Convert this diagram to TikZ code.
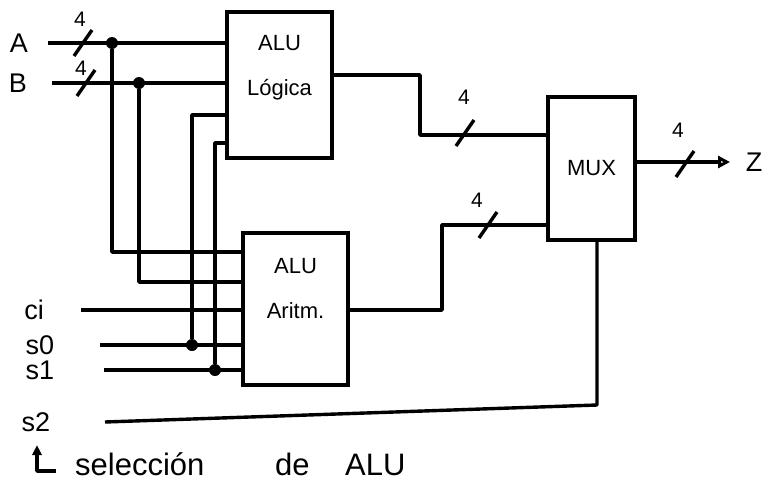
\documentclass[tikz,border=0pt]{standalone}
\usepackage{fontspec}
\setmainfont{Liberation Sans}
\usepackage{tikz}
\usetikzlibrary{arrows.meta}

\tikzset{
	wire/.style={line width=3.4pt, line join=round},
	alubox/.style={draw, line width=3.4pt, inner sep=0, minimum width=105pt, minimum height=146pt},
	boxtext/.style={inner sep=0, align=center, anchor=north, font=\fontsize{22}{45}\selectfont},
	sig/.style={inner sep=0, font=\fontsize{27}{30}\selectfont},
	buslbl/.style={inner sep=0, font=\fontsize{21}{22}\selectfont},
	junct/.style={circle, fill, inner sep=0, minimum size=12pt}
}
% bus slash with width label: #1 = point x,y ; #2 = label node name ; #3 = label shift
\newcommand{\busslash}[3]{%
	\draw[wire] ([shift={(-9,13)}]#1) -- ([shift={(9,-13)}]#1);
	\node[buslbl] (#2) at ([shift={(#3)}]#1) {4};}

\begin{document}
\begin{tikzpicture}[x=1pt, y=-1pt]
	\useasboundingbox (0,0) rectangle (771,482);
	% Blocks:
	\node[alubox] (logic) at (279.5,85) {};
	\node[alubox, minimum height=152pt] (arith) at (295.5,309) {};
	\node[alubox, minimum width=87pt, minimum height=143pt] (mux) at (591.5,168.5) {};
	\node[boxtext] (logicT) at ([yshift=-25]logic.north) {ALU\\Lógica};
	\node[boxtext] (arithT) at ([yshift=-27]arith.north) {ALU\\Aritm.};
	\node[boxtext, anchor=center] (muxT) at (mux) {MUX};
	% Inputs:
	\node[sig] (A) at (19,43) {A};
	\node[sig] (B) at (18,83) {B};
	\node[sig] (ci) at (34,310) {ci};
	\node[sig] (s0) at (40,345) {s0};
	\node[sig] (s1) at (40,370) {s1};
	\node[sig] (s2) at (36,422) {s2};
	\node[sig] (Z) at (754,162) {Z};
	\coordinate (Ain) at (48,43);
	\coordinate (Bin) at (52,83);
	\coordinate (ciin) at (81,310);
	\coordinate (s0in) at (100,345);
	\coordinate (s1in) at (104,370);
	\coordinate (s2in) at (105,422);
	% Junctions:
	\node[junct] (jA) at (112,43) {};
	\node[junct] (jB) at (139,83) {};
	\node[junct] (js0) at (192,345) {};
	\node[junct] (js1) at (215,370) {};
	% Paths and wires:
	\draw[wire] (Ain) -- (Ain -| logic.west);
	\draw[wire] (Bin) -- (Bin -| logic.west);
	\busslash{83,43}{wA}{-3,-24}
	\busslash{86,83}{wB}{-5,-15}
	\draw[wire] (jA) |- (arith.west |- 0,252);
	\draw[wire] (jB) |- (arith.west |- 0,282);
	\draw[wire] (ciin) -- (ciin -| arith.west);
	\draw[wire] (s0in) -- (s0in -| arith.west);
	\draw[wire] (s1in) -- (s1in -| arith.west);
	\draw[wire] (js0) |- (logic.west |- 0,115);
	\draw[wire] (js1) |- (logic.west |- 0,143);
	% Outputs to the mux:
	\draw[wire] (logic.east |- 0,75) -| (420,135) -- (mux.west |- 0,135);
	\busslash{465,133}{wL}{-1,-36}
	\draw[wire] (arith.east |- 0,310) -| (442,225) -- (mux.west |- 0,225);
	\busslash{488,225}{wR}{-11,-25}
	\draw[wire, -{Triangle[open, length=12pt, width=12pt]}] (mux.east |- 0,162) -- (730,162);
	\busslash{685,164}{wZ}{-7,-34}
	\draw[wire] (s2in) -- (597,405) -- (mux.south -| 597,0);
	% Note:
	\draw[wire, -{Triangle[length=10pt, width=9pt]}] (56,471) -| (37,445);
	\node[sig, anchor=west, font=\fontsize{31}{34}\selectfont] (note) at (75,464) {\makebox[200pt][l]{selección}\makebox[70pt][l]{de}ALU};
\end{tikzpicture}
\end{document}
